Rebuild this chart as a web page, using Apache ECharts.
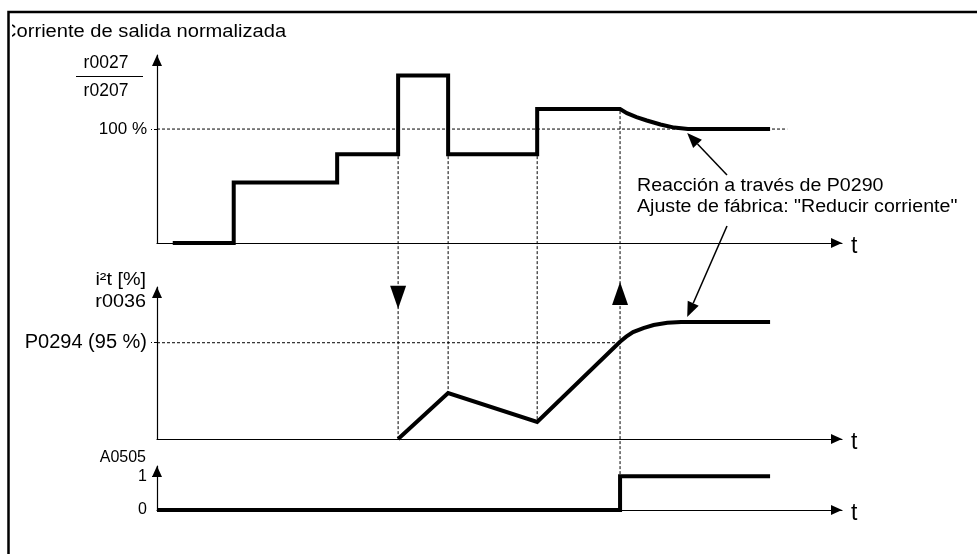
<!DOCTYPE html>
<html>
<head>
<meta charset="utf-8">
<script src="https://cdn.jsdelivr.net/npm/echarts@6/dist/echarts.min.js"></script>
<style>
  html, body { margin: 0; padding: 0; background: #fff; }
  #chart { width: 977px; height: 554px; }
</style>
</head>
<body>
<div id="chart"></div>
<script>
// Common time scale for the three stacked panels (arbitrary units)
const timeMax = 100;

// Normalized output current r0027 / r0207 [%]
const currentTime  = [2.3, 11.2, 11.2, 26.3, 26.3, 35.2, 35.2, 42.5, 42.5, 55.5, 55.5, 67.6, 68.6, 70.0, 71.5, 73.5, 75.5, 77.5, 89.5];
const currentValue = [0, 0, 53, 53, 78, 78, 147, 147, 78, 78, 117.5, 117.5, 114, 110.5, 107.5, 104, 101.3, 100, 100];
const currentLimit = 100;          // 100 %
const currentLimitEnd = 92;        // guide runs slightly past the trace

// Motor thermal model i2t, r0036 [%]
const i2tTime  = [35.2, 42.5, 55.5, 67.6, 68.5, 69.5, 71.0, 72.5, 74.5, 76.5, 89.5];
const i2tValue = [0, 45.4, 16.8, 96, 101, 105.5, 109.5, 112.5, 114.7, 115.5, 115.5];
const i2tParam = 'P0294';
const i2tLimit = 95;               // warning threshold P0294 (95 %)

// Warning A0505
const warnTime  = [0, 67.6, 67.6, 89.5];
const warnValue = [0, 0, 1, 1];

// Event instants linking the panels: [time, current level, lower panel, lower value]
const eventTime   = [35.2, 42.5, 55.5, 67.6];
const eventTop    = [78, 78, 78, 117.5];
const eventPanel  = [1, 1, 1, 2];
const eventBottom = [0, 45.4, 16.8, 1];

// Direction markers on the i2t panel
const overloadStart = [[35.2, 140]];
const warningRaise  = [[67.6, 143.6]];

// Where the annotation arrows point
const reactionTime = 77.4;
const reactionCurrent = 96.5;
const reactionI2t = 120.4;

const FONT = '"Liberation Sans", Arial, Helvetica, sans-serif';
const zip = (xs, ys) => xs.map((x, i) => [x, ys[i]]);

const chart = echarts.init(document.getElementById('chart'));

function timeAxis(gridIndex) {
  return {
    type: 'value', gridIndex, min: 0, max: timeMax,
    axisLine: {
      show: true, onZero: false,
      symbol: ['none', 'triangle'], symbolSize: [10, 11], symbolOffset: [0, -5.5],
      lineStyle: { color: '#000', width: 1.2 }
    },
    axisTick: { show: false }, axisLabel: { show: false }, splitLine: { show: false },
    name: 't', nameLocation: 'end', nameGap: 9,
    nameTextStyle: { fontFamily: FONT, fontSize: 23, color: '#000', verticalAlign: 'top', lineHeight: 8 }
  };
}

function levelAxis(gridIndex, max, labelValues, formatter, fontSize, tickValues) {
  return {
    type: 'value', gridIndex, min: 0, max,
    axisLine: {
      show: true, onZero: false,
      symbol: ['none', 'triangle'], symbolSize: [10, 11], symbolOffset: [0, -5.5],
      lineStyle: { color: '#000', width: 1.2 }
    },
    axisTick: {
      show: tickValues.length > 0, customValues: tickValues, length: 6,
      lineStyle: { color: '#000', width: 1, type: [3, 2] }
    },
    axisLabel: {
      show: true, customValues: labelValues, formatter, margin: 10,
      fontFamily: FONT, fontSize, color: '#000'
    },
    splitLine: { show: false }
  };
}

const thick = { color: '#000', width: 4, cap: 'butt', join: 'miter' };
const dashed = { color: '#000', width: 1, type: [3, 2] };

chart.setOption({
  animation: false,
  backgroundColor: '#fff',
  grid: [
    { left: 157, top: 55,  width: 685, height: 188, outerBoundsMode: 'none' },
    { left: 157, top: 287, width: 685, height: 152, outerBoundsMode: 'none' },
    { left: 157, top: 466, width: 685, height: 44,  outerBoundsMode: 'none' }
  ],
  xAxis: [timeAxis(0), timeAxis(1), timeAxis(2)],
  yAxis: [
    levelAxis(0, 165, [currentLimit], v => v + ' %', 17, [currentLimit]),
    levelAxis(1, 150, [i2tLimit], v => i2tParam + ' (' + v + ' %)', 20, [i2tLimit]),
    Object.assign(levelAxis(2, 1.3, [0, 1], v => String(v), 16, [1]), {
      axisTick: { show: true, customValues: [1], length: 5, lineStyle: { color: '#000', width: 1 } },
    })
  ],
  series: [
    { type: 'line', xAxisIndex: 0, yAxisIndex: 0, symbol: 'none', z: 3,
      data: zip(currentTime, currentValue), lineStyle: thick },
    { type: 'line', xAxisIndex: 0, yAxisIndex: 0, symbol: 'none', z: 1,
      data: [[0, currentLimit], [currentLimitEnd, currentLimit]], lineStyle: dashed },
    { type: 'line', xAxisIndex: 1, yAxisIndex: 1, symbol: 'none', z: 3,
      data: zip(i2tTime, i2tValue), lineStyle: thick },
    { type: 'line', xAxisIndex: 1, yAxisIndex: 1, symbol: 'none', z: 1,
      data: [[0, i2tLimit], [i2tTime[3], i2tLimit]], lineStyle: dashed },
    { type: 'scatter', xAxisIndex: 1, yAxisIndex: 1, z: 4, clip: false,
      symbol: 'triangle', symbolRotate: 180, symbolSize: [16, 23],
      itemStyle: { color: '#000', opacity: 1 }, data: overloadStart },
    { type: 'scatter', xAxisIndex: 1, yAxisIndex: 1, z: 4, clip: false,
      symbol: 'triangle', symbolSize: [16, 23],
      itemStyle: { color: '#000', opacity: 1 }, data: warningRaise },
    { type: 'line', xAxisIndex: 2, yAxisIndex: 2, symbol: 'none', z: 3,
      data: zip(warnTime, warnValue), lineStyle: thick }
  ]
});

// Overlay: cross-panel guides, annotation arrows and free text
const px = (g, x, y) => chart.convertToPixel({ gridIndex: g }, [x, y]);
const elements = [];

eventTime.forEach((t, i) => {
  const a = px(0, t, eventTop[i]);
  const b = px(eventPanel[i], t, eventBottom[i]);
  elements.push({
    type: 'line', z: 1, silent: true,
    shape: { x1: a[0], y1: a[1] + 2, x2: b[0], y2: b[1] },
    style: { stroke: '#000', lineWidth: 1, lineDash: [3, 2] }
  });
});

function arrow(tail, tip) {
  const dx = tip[0] - tail[0], dy = tip[1] - tail[1];
  const len = Math.hypot(dx, dy), ux = dx / len, uy = dy / len;
  const L = 15, W = 6;
  const bx = tip[0] - ux * L, by = tip[1] - uy * L;
  elements.push({
    type: 'line', z: 5, silent: true,
    shape: { x1: tail[0], y1: tail[1], x2: bx, y2: by },
    style: { stroke: '#000', lineWidth: 1.5 }
  });
  elements.push({
    type: 'polygon', z: 5, silent: true,
    shape: { points: [tip, [bx - uy * W, by + ux * W], [bx + uy * W, by - ux * W]] },
    style: { fill: '#000' }
  });
}

const noteX = 637, noteY1 = 186, noteY2 = 207;
arrow([727, noteY1 - 11], px(0, reactionTime, reactionCurrent));
arrow([727, noteY2 + 19], px(1, reactionTime, reactionI2t));

function label(text, x, y, size, align, sx) {
  elements.push({
    type: 'text', z: 6, silent: true, x, y, scaleX: sx || 1,
    style: { text, fontFamily: FONT, fontSize: size, fill: '#000', align, verticalAlign: 'middle' }
  });
}

label('Corriente de salida normalizada', 2, 32, 17.5, 'left', 1.15);
label('r0027', 106, 63, 17.5, 'center');
label('r0207', 106, 91, 17.5, 'center');
label('i\u00b2t [%]', 146, 280, 18, 'right', 1.1);
label('r0036', 146, 302, 18, 'right', 1.1);
label('A0505', 146, 458, 16, 'right');
label('Reacción a través de P0290', noteX, noteY1, 18, 'left', 1.09);
label('Ajuste de fábrica: "Reducir corriente"', noteX, noteY2, 18, 'left', 1.09);

// fraction bar between r0027 and r0207
elements.push({
  type: 'line', z: 6, silent: true,
  shape: { x1: 76, y1: 76.5, x2: 143, y2: 76.5 },
  style: { stroke: '#000', lineWidth: 1.2 }
});

// white margin clipping the heading, then the drawing frame
elements.push({ type: 'rect', z: 7, silent: true, shape: { x: 0, y: 14, width: 12, height: 40 }, style: { fill: '#fff' } });
elements.push({
  type: 'polyline', z: 8, silent: true,
  shape: { points: [[8.5, 554], [8.5, 12], [977, 12]] },
  style: { stroke: '#000', lineWidth: 2.5, fill: null }
});

chart.setOption({ graphic: { elements } });
</script>
</body>
</html>
